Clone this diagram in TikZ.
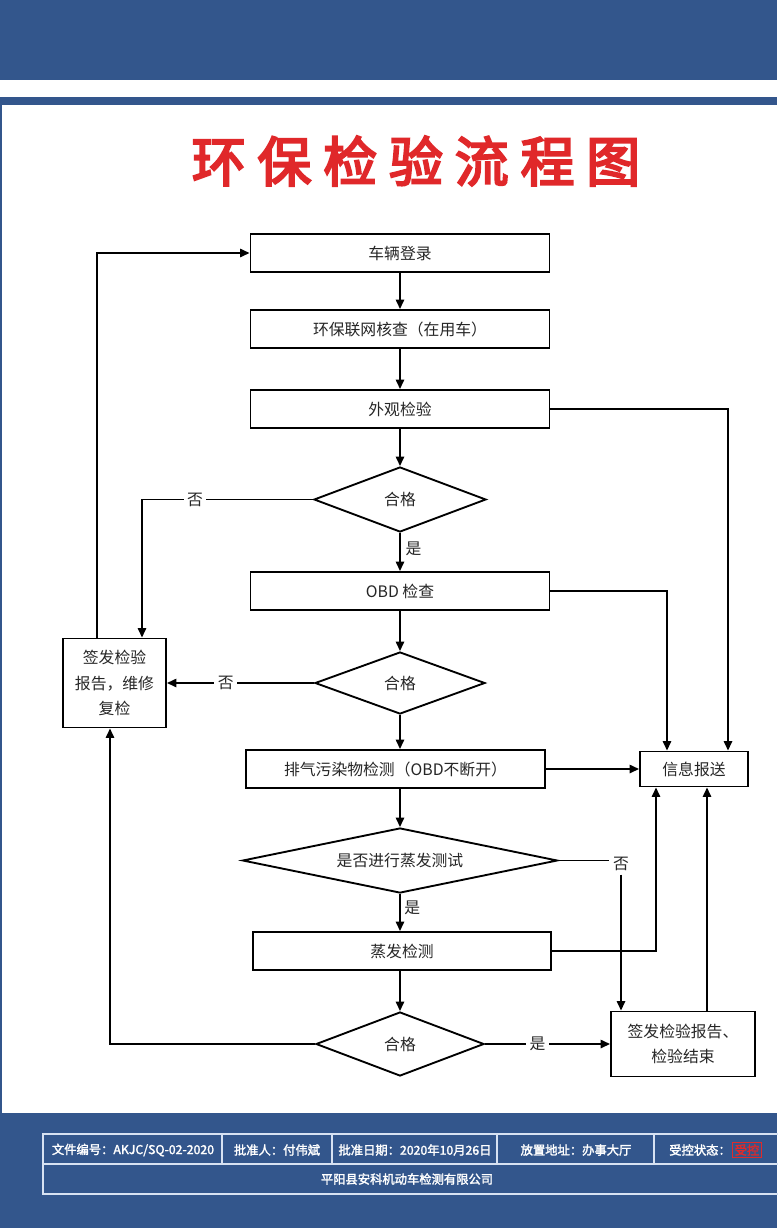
\documentclass[tikz,border=0pt]{standalone}
\usepackage{fontspec}
\usetikzlibrary{shapes.geometric,arrows.meta}
\newfontfamily\cjk{Noto Sans CJK SC}
\newfontfamily\cjktitle[FakeBold=4,LetterSpace=22]{Noto Sans CJK SC}
\newfontfamily\cjkfoot[FakeBold=2]{Noto Sans CJK SC}
\definecolor{bandblue}{HTML}{33568C}
\definecolor{titlered}{HTML}{E0282A}
\definecolor{tableline}{HTML}{D8E2F2}
\definecolor{ctrlred}{HTML}{E02A2A}
\begin{document}
\begin{tikzpicture}[x=0.03cm,y=-0.03cm,
  box/.style={draw,line width=1.6pt,fill=white,inner sep=0pt,minimum height=1.14cm,
    font=\cjk\fontsize{13.5}{22}\selectfont,text=black!85},
  dia/.style={draw,diamond,line width=1.6pt,fill=white,inner sep=0pt,shape aspect=2.7,
    font=\cjk\fontsize{13.5}{16}\selectfont,text=black!85},
  arr/.style={line width=1.6pt,-{Triangle[length=8pt,width=7pt]}},
  ln/.style={line width=1.6pt},
  lbl/.style={font=\cjk\fontsize{13.5}{16}\selectfont,text=black!85,fill=white,inner sep=3pt},
  foot/.style={font=\cjkfoot\fontsize{10.5}{12}\selectfont,text=white,inner sep=1pt}]
\useasboundingbox (0,0) rectangle (777,1228);
\fill[white] (0,0) rectangle (777,1228);
\fill[bandblue] (0,0) rectangle (777,80);
\fill[bandblue] (0,97) rectangle (777,105);
\fill[bandblue] (0,1113) rectangle (777,1228);
\fill[bandblue] (0,105) rectangle (2,1113);

\node[text=titlered,font=\cjktitle\fontsize{46}{50}\selectfont] (title) at (416,161) {环保检验流程图};

\node[box,minimum width=8.97cm] (n1) at (400,253) {车辆登录};
\node[box,minimum width=8.97cm] (n2) at (400,329) {环保联网核查（在用车）};
\node[box,minimum width=8.97cm] (n3) at (400,409) {外观检验};
\node[dia,minimum width=5.16cm,minimum height=1.95cm] (d1) at (400,499.5) {合格};
\node[box,minimum width=8.97cm] (n4) at (400,591) {OBD 检查};
\node[dia,minimum width=5.1cm,minimum height=1.86cm] (d2) at (400,683) {合格};
\node[box,minimum width=8.97cm] (n5) at (395.5,769) {排气污染物检测（OBD不断开）};
\node[dia,shape aspect=4.85,minimum width=9.45cm,minimum height=1.95cm] (d3) at (400,860.5) {是否进行蒸发测试};
\node[box,minimum width=8.94cm] (n6) at (402,951) {蒸发检测};
\node[dia,minimum width=5.04cm,minimum height=1.92cm] (d4) at (400,1044) {合格};
\node[box,minimum width=3.09cm,minimum height=2.67cm,align=center] (rep) at (114.5,683) {签发检验\\报告，维修\\复检};
\node[box,minimum width=3.24cm,minimum height=1.05cm] (info) at (694,769) {信息报送};
\node[box,minimum width=4.32cm,minimum height=1.95cm,align=center] (end) at (683,1044) {签发检验报告、\\检验结束};

% main vertical flow
\draw[arr] (n1) -- (n2);
\draw[arr] (n2) -- (n3);
\draw[arr] (n3.south) -- (d1.north);
\draw[arr] (d1.south) -- node[pos=0.42,right,font=\cjk\fontsize{13.5}{16}\selectfont,text=black!85,inner sep=4pt]{是} (n4.north);
\draw[arr] (n4.south) -- (d2.north);
\draw[arr] (d2.south) -- (d2.south |- n5.north);
\draw[arr] (d3.north |- n5.south) -- (d3.north);
\draw[arr] (d3.south) -- node[pos=0.38,right,font=\cjk\fontsize{13.5}{16}\selectfont,text=black!85,inner sep=3pt]{是} (d3.south |- n6.north);
\draw[arr] (d4.north |- n6.south) -- (d4.north);

% to repair/re-check box
\draw[arr] (d1.west) -| node[lbl,pos=0.345]{否} ([xshift=0.825cm]rep.north);
\draw[arr] (d2.west) -- node[lbl,pos=0.6]{否} (rep.east);
\draw[arr] (d4.west) -| ([xshift=-0.135cm]rep.south);
\draw[arr] ([xshift=-0.525cm]rep.north) |- (n1.west);

% to info box
\draw[arr] (n3.east) -| ([xshift=1.02cm]info.north);
\draw[arr] (n4.east) -| ([xshift=-0.81cm]info.north);
\draw[arr] (n5.east) -- (info.west);
\draw[arr] (n6.east) -| ([xshift=-1.14cm]info.south);
\draw[arr] ([xshift=0.72cm]end.north) -- ([xshift=0.72cm]end.north |- info.south);

% evaporation test: no
\node[font=\cjk\fontsize{13.5}{16}\selectfont,text=black!85,inner sep=3pt] (no3) at (621,864) {否};
\draw[ln] (d3.east) -- (d3.east -| no3.west);
\draw[arr] (no3.south) -- (no3.south |- end.north);

% pass -> end
\draw[arr] (d4.east) -- node[lbl,pos=0.42]{是} (end.west);

% footer table
\draw[tableline,line width=1.2pt] (43,1134) rectangle (790,1194);
\draw[tableline,line width=1pt] (43,1164) -- (790,1164);
\foreach \xx in {222,332,497,654} \draw[tableline,line width=1pt] (\xx,1134) -- (\xx,1164);
\node[foot] (f1) at (133,1150) {文件编号：AKJC/SQ-02-2020};
\node[foot] (f2) at (277,1150) {批准人：付伟斌};
\node[foot] (f3) at (415,1150) {批准日期：2020年10月26日};
\node[foot] (f4) at (576,1150) {放置地址：办事大厅};
\node[foot] (f5) at (700,1150) {受控状态：};
\node[foot,text=ctrlred,draw=ctrlred,line width=0.8pt,inner sep=1.5pt] (f6) at (747,1150) {受控};
\node[foot] (f7) at (407,1179) {平阳县安科机动车检测有限公司};
\end{tikzpicture}
\end{document}
